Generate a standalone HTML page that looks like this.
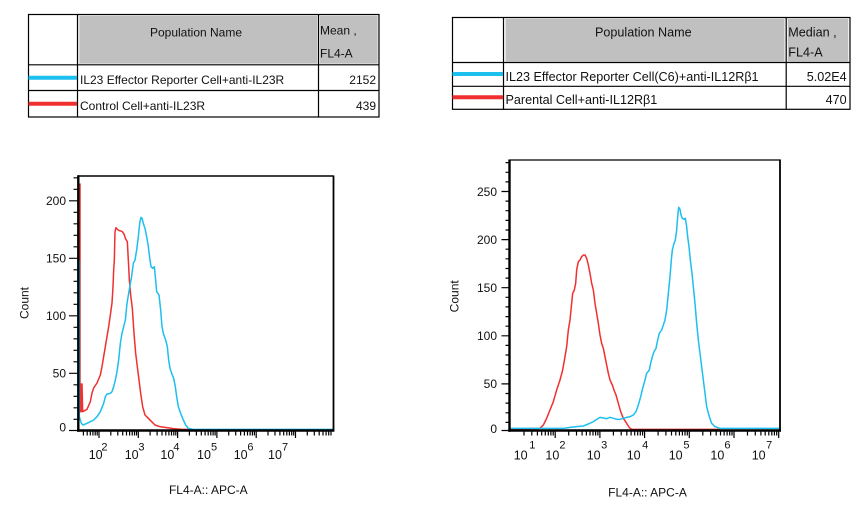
<!DOCTYPE html>
<html><head><meta charset="utf-8"><style>
html,body{margin:0;padding:0;background:#fff;}
svg{display:block;font-family:"Liberation Sans",Arial,sans-serif;}
</style></head><body>
<svg width="863" height="506" viewBox="0 0 863 506" xmlns="http://www.w3.org/2000/svg">
<rect width="863" height="506" fill="#fff"/>

<!-- ============ TABLE 1 ============ -->
<g>
<rect x="79" y="15.5" width="238.5" height="48.5" fill="#c0c0c0" stroke="#ececec" stroke-width="1"/>
<rect x="319.5" y="15.5" width="58.5" height="48.5" fill="#c0c0c0" stroke="#ececec" stroke-width="1"/>
<rect x="28.5" y="14.5" width="350.5" height="102.5" fill="none" stroke="#000" stroke-width="1.2"/>
<line x1="77.5" y1="14.5" x2="77.5" y2="117" stroke="#000" stroke-width="1.2"/>
<line x1="318.5" y1="14.5" x2="318.5" y2="117" stroke="#000" stroke-width="1.2"/>
<line x1="28.5" y1="64.8" x2="379" y2="64.8" stroke="#000" stroke-width="1.2"/>
<line x1="28.5" y1="90.5" x2="379" y2="90.5" stroke="#000" stroke-width="1.2"/>
<line x1="28.5" y1="77.7" x2="77" y2="77.7" stroke="#1DBFEF" stroke-width="4"/>
<line x1="28.5" y1="103.8" x2="77" y2="103.8" stroke="#F0302F" stroke-width="4"/>
<g font-size="12" fill="#111">
<text x="196" y="36.7" text-anchor="middle">Population Name</text>
<text x="320" y="34.3">Mean ,</text>
<text x="320" y="57.5">FL4-A</text>
<text x="80" y="84">IL23 Effector Reporter Cell+anti-IL23R</text>
<text x="376" y="84" text-anchor="end">2152</text>
<text x="80" y="110">Control Cell+anti-IL23R</text>
<text x="376" y="110" text-anchor="end">439</text>
</g>
</g>

<!-- ============ TABLE 2 ============ -->
<g>
<rect x="505.3" y="18.5" width="279.5" height="43.5" fill="#c0c0c0" stroke="#ececec" stroke-width="1"/>
<rect x="787.5" y="18.5" width="61" height="43.5" fill="#c0c0c0" stroke="#ececec" stroke-width="1"/>
<rect x="452.5" y="17.5" width="397.5" height="91.8" fill="none" stroke="#000" stroke-width="1.2"/>
<line x1="503.5" y1="17.5" x2="503.5" y2="109.3" stroke="#000" stroke-width="1.2"/>
<line x1="786.2" y1="17.5" x2="786.2" y2="109.3" stroke="#000" stroke-width="1.2"/>
<line x1="452.5" y1="62.5" x2="850" y2="62.5" stroke="#000" stroke-width="1.2"/>
<line x1="452.5" y1="86.3" x2="850" y2="86.3" stroke="#000" stroke-width="1.2"/>
<line x1="452.5" y1="74" x2="503" y2="74" stroke="#1DBFEF" stroke-width="4"/>
<line x1="452.5" y1="97.3" x2="503" y2="97.3" stroke="#F0302F" stroke-width="4"/>
<g font-size="12.6" fill="#111">
<text x="643.3" y="36.7" text-anchor="middle">Population Name</text>
<text x="788.3" y="36.7">Median ,</text>
<text x="788.3" y="56.7">FL4-A</text>
<text x="505.5" y="81">IL23 Effector Reporter Cell(C6)+anti-IL12Rβ1</text>
<text x="846.7" y="81" text-anchor="end">5.02E4</text>
<text x="505.5" y="104">Parental Cell+anti-IL12Rβ1</text>
<text x="846.7" y="104" text-anchor="end">470</text>
</g>
</g>

<!-- ============ LEFT PLOT ============ -->
<g>
<g transform="translate(0,160) scale(0.333333)" fill="none" stroke-width="4.5" stroke-linejoin="round">
<path stroke="#F0302F" d="M240,70 L240,755 L244,755 L244,672 L246,672 L248,755 L261,748 L271,725 L276,699 L281,684 L291,669 L301,645 L306,620 L311,590 L316,560 L321,530 L326,500 L331,465 L336,429 L339,380 L341,330 L343,300 L345,215 L348,203 L352,208 L358,212 L366,214 L372,222 L377,237 L382,245 L385,300 L388,360 L392,405 L397,445 L402,520 L407,580 L412,620 L417,660 L422,700 L428,740 L435,765 L445,775 L455,785 L465,795 L480,800 L500,803 L520,806 L545,808 L570,808"/>
<path stroke="#1DBFEF" d="M238,300 L238,770 L244,790 L249,795 L261,790 L271,785 L281,780 L291,770 L301,755 L311,730 L316,710 L321,702 L331,700 L336,695 L341,680 L346,660 L351,635 L356,600 L361,550 L366,520 L371,500 L376,480 L381,430 L386,400 L391,370 L394,355 L400,310 L405,300 L410,270 L415,230 L418,200 L420,185 L423,172 L426,175 L430,190 L435,205 L440,230 L445,260 L450,300 L453,320 L458,325 L463,320 L466,350 L470,395 L477,405 L482,450 L486,500 L490,520 L497,540 L502,560 L506,600 L510,625 L515,640 L521,655 L526,680 L530,710 L535,740 L542,760 L550,780 L557,795 L565,805 L580,808 L1000,808"/>
</g>
<line x1="78" y1="176" x2="333.5" y2="176" stroke="#000" stroke-width="1.6"/>
<line x1="333.5" y1="175.5" x2="333.5" y2="431.5" stroke="#000" stroke-width="1.8"/>
<line x1="78.3" y1="175.3" x2="78.3" y2="431.7" stroke="#000" stroke-width="2.4"/>
<line x1="77" y1="430.5" x2="334.3" y2="430.5" stroke="#000" stroke-width="2.4"/>
<path stroke="#000" stroke-width="1.2" fill="none" d="
M69,373.3H78 M69,315.8H78 M69,258.3H78 M69,200.8H78
M73.5,419.3H78 M73.5,407.8H78 M73.5,396.3H78 M73.5,384.8H78
M73.5,361.8H78 M73.5,350.3H78 M73.5,338.8H78 M73.5,327.3H78
M73.5,304.3H78 M73.5,292.8H78 M73.5,281.3H78 M73.5,269.8H78
M73.5,246.8H78 M73.5,235.3H78 M73.5,223.8H78 M73.5,212.3H78
M73.5,189.3H78 M73.5,177.8H78"/>
<path stroke="#000" stroke-width="1.2" fill="none" d="M69,430.5H78"/>
<g font-size="12" fill="#111" text-anchor="end">
<text x="66" y="205.1">200</text>
<text x="66" y="262.6">150</text>
<text x="66" y="320.1">100</text>
<text x="66" y="377.6">50</text>
<text x="66" y="431.7">0</text>
</g>
<path stroke="#000" stroke-width="1.2" fill="none" d="
M99,431V438 M138.3,431V438 M177.6,431V438 M216.9,431V438 M256.2,431V438 M295.5,431V438
M83.4,431V435.5 M87.2,431V435.5 M90.3,431V435.5 M92.9,431V435.5 M95.2,431V435.5 M97.2,431V435.5
M110.8,431V435.5 M117.8,431V435.5 M122.7,431V435.5 M126.5,431V435.5 M129.6,431V435.5 M132.2,431V435.5 M134.5,431V435.5 M136.5,431V435.5
M150.1,431V435.5 M157.1,431V435.5 M162,431V435.5 M165.8,431V435.5 M168.9,431V435.5 M171.5,431V435.5 M173.8,431V435.5 M175.8,431V435.5
M189.4,431V435.5 M196.4,431V435.5 M201.3,431V435.5 M205.1,431V435.5 M208.2,431V435.5 M210.8,431V435.5 M213.1,431V435.5 M215.1,431V435.5
M228.7,431V435.5 M235.7,431V435.5 M240.6,431V435.5 M244.4,431V435.5 M247.5,431V435.5 M250.1,431V435.5 M252.4,431V435.5 M254.4,431V435.5
M268,431V435.5 M275,431V435.5 M279.9,431V435.5 M283.7,431V435.5 M286.8,431V435.5 M289.4,431V435.5 M291.7,431V435.5 M293.7,431V435.5
M307.3,431V435.5 M314.3,431V435.5 M319.2,431V435.5 M323,431V435.5 M326.1,431V435.5 M328.7,431V435.5 M331,431V435.5"/>
<g fill="#111">
<text x="88.7" y="459" font-size="12.5">10</text><text x="101.4" y="450.3" font-size="11">2</text>
<text x="124.7" y="459" font-size="12.5">10</text><text x="138.4" y="450.3" font-size="11">3</text>
<text x="160.4" y="459" font-size="12.5">10</text><text x="173.4" y="450.3" font-size="11">4</text>
<text x="197" y="459" font-size="12.5">10</text><text x="211" y="450.3" font-size="11">5</text>
<text x="233.7" y="459" font-size="12.5">10</text><text x="247.4" y="450.3" font-size="11">6</text>
<text x="268" y="459" font-size="12.5">10</text><text x="282" y="450.3" font-size="11">7</text>
</g>
<text transform="translate(28.3,303) rotate(-90)" font-size="12" text-anchor="middle" fill="#111">Count</text>
<text x="208.3" y="494" font-size="12" text-anchor="middle" fill="#111">FL4-A:: APC-A</text>
</g>

<!-- ============ RIGHT PLOT ============ -->
<g>
<g transform="translate(430,150) scale(0.333333)" fill="none" stroke-width="4.5" stroke-linejoin="round">
<path stroke="#F0302F" d="M240,837 L330,835 L340,825 L350,805 L360,780 L370,755 L380,720 L390,690 L398,660 L405,620 L410,590 L415,540 L420,510 L425,460 L428,430 L433,420 L437,400 L440,360 L445,335 L450,330 L455,320 L460,315 L465,315 L470,325 L475,345 L480,370 L485,400 L490,420 L495,460 L500,490 L505,520 L510,555 L515,580 L520,595 L525,620 L530,645 L535,670 L540,690 L547,705 L552,720 L558,735 L565,760 L572,785 L580,805 L590,820 L598,833 L605,838 L870,838"/>
<path stroke="#1DBFEF" d="M243,835 L400,835 L420,832 L440,830 L460,828 L475,822 L490,815 L500,808 L510,802 L520,804 L530,806 L540,802 L550,805 L560,808 L570,808 L580,805 L590,802 L600,800 L610,795 L618,785 L625,765 L632,740 L638,715 L645,690 L650,670 L658,660 L662,640 L667,620 L672,605 L678,595 L683,570 L688,550 L695,540 L700,525 L705,510 L710,480 L713,450 L717,410 L720,380 L724,330 L727,300 L732,280 L736,270 L740,240 L743,200 L746,172 L750,178 L753,195 L757,205 L762,208 L766,205 L770,230 L773,260 L777,290 L781,330 L786,370 L790,410 L795,460 L800,520 L805,570 L810,610 L815,650 L820,690 L825,730 L830,770 L838,800 L845,820 L855,830 L870,835 L1050,835"/>
</g>
<line x1="509.5" y1="160" x2="780.5" y2="160" stroke="#000" stroke-width="1.2"/>
<line x1="780" y1="159.5" x2="780" y2="431.5" stroke="#000" stroke-width="1.8"/>
<line x1="509.5" y1="159.5" x2="509.5" y2="431.7" stroke="#000" stroke-width="2.4"/>
<line x1="508.3" y1="430.5" x2="781" y2="430.5" stroke="#000" stroke-width="2.4"/>
<path stroke="#000" stroke-width="1.2" fill="none" d="
M501.5,430.5H510 M501.5,383.9H510 M501.5,335.8H510 M501.5,287.7H510 M501.5,239.6H510 M501.5,191.5H510
M505.5,422.4H510 M505.5,412.8H510 M505.5,403.1H510 M505.5,393.5H510
M505.5,374.3H510 M505.5,364.7H510 M505.5,355H510 M505.5,345.4H510
M505.5,326.2H510 M505.5,316.6H510 M505.5,306.9H510 M505.5,297.3H510
M505.5,278.1H510 M505.5,268.5H510 M505.5,258.8H510 M505.5,249.2H510
M505.5,230H510 M505.5,220.4H510 M505.5,210.7H510 M505.5,201.1H510
M505.5,181.9H510 M505.5,172.3H510 M505.5,162.6H510"/>
<g font-size="12" fill="#111" text-anchor="end">
<text x="497" y="195.8">250</text>
<text x="497" y="243.9">200</text>
<text x="497" y="292">150</text>
<text x="497" y="340.1">100</text>
<text x="497" y="388.2">50</text>
<text x="497" y="433.1">0</text>
</g>
<path stroke="#000" stroke-width="1.2" fill="none" d="
M555.2,431V438 M599.9,431V438 M644.6,431V438 M689.3,431V438 M734,431V438 M778.7,431V438
M524,431V435.5 M531.8,431V435.5 M537.4,431V435.5 M541.7,431V435.5 M545.3,431V435.5 M548.3,431V435.5 M550.9,431V435.5 M553.2,431V435.5
M568.7,431V435.5 M576.5,431V435.5 M582.1,431V435.5 M586.4,431V435.5 M590,431V435.5 M593,431V435.5 M595.6,431V435.5 M597.9,431V435.5
M613.4,431V435.5 M621.2,431V435.5 M626.8,431V435.5 M631.1,431V435.5 M634.7,431V435.5 M637.7,431V435.5 M640.3,431V435.5 M642.6,431V435.5
M658.1,431V435.5 M665.9,431V435.5 M671.5,431V435.5 M675.8,431V435.5 M679.4,431V435.5 M682.4,431V435.5 M685,431V435.5 M687.3,431V435.5
M702.8,431V435.5 M710.6,431V435.5 M716.2,431V435.5 M720.5,431V435.5 M724.1,431V435.5 M727.1,431V435.5 M729.7,431V435.5 M732,431V435.5
M747.5,431V435.5 M755.3,431V435.5 M760.9,431V435.5 M765.2,431V435.5 M768.8,431V435.5 M771.8,431V435.5 M774.4,431V435.5 M776.7,431V435.5"/>
<g fill="#111">
<text x="513.7" y="459.3" font-size="12.5">10</text><text x="529.3" y="448.6" font-size="11">1</text>
<text x="545.4" y="459.3" font-size="12.5">10</text><text x="559.4" y="448.6" font-size="11">2</text>
<text x="586.7" y="459.3" font-size="12.5">10</text><text x="601.1" y="448.6" font-size="11">3</text>
<text x="626.7" y="459.3" font-size="12.5">10</text><text x="642.1" y="448.6" font-size="11">4</text>
<text x="668.7" y="459.3" font-size="12.5">10</text><text x="683.4" y="448.6" font-size="11">5</text>
<text x="710.4" y="459.3" font-size="12.5">10</text><text x="724.4" y="448.6" font-size="11">6</text>
<text x="751.7" y="459.3" font-size="12.5">10</text><text x="766.1" y="448.6" font-size="11">7</text>
</g>
<text transform="translate(458.3,296.3) rotate(-90)" font-size="12" text-anchor="middle" fill="#111">Count</text>
<text x="647.5" y="496.5" font-size="12" text-anchor="middle" fill="#111">FL4-A:: APC-A</text>
</g>
</svg>
</body></html>
